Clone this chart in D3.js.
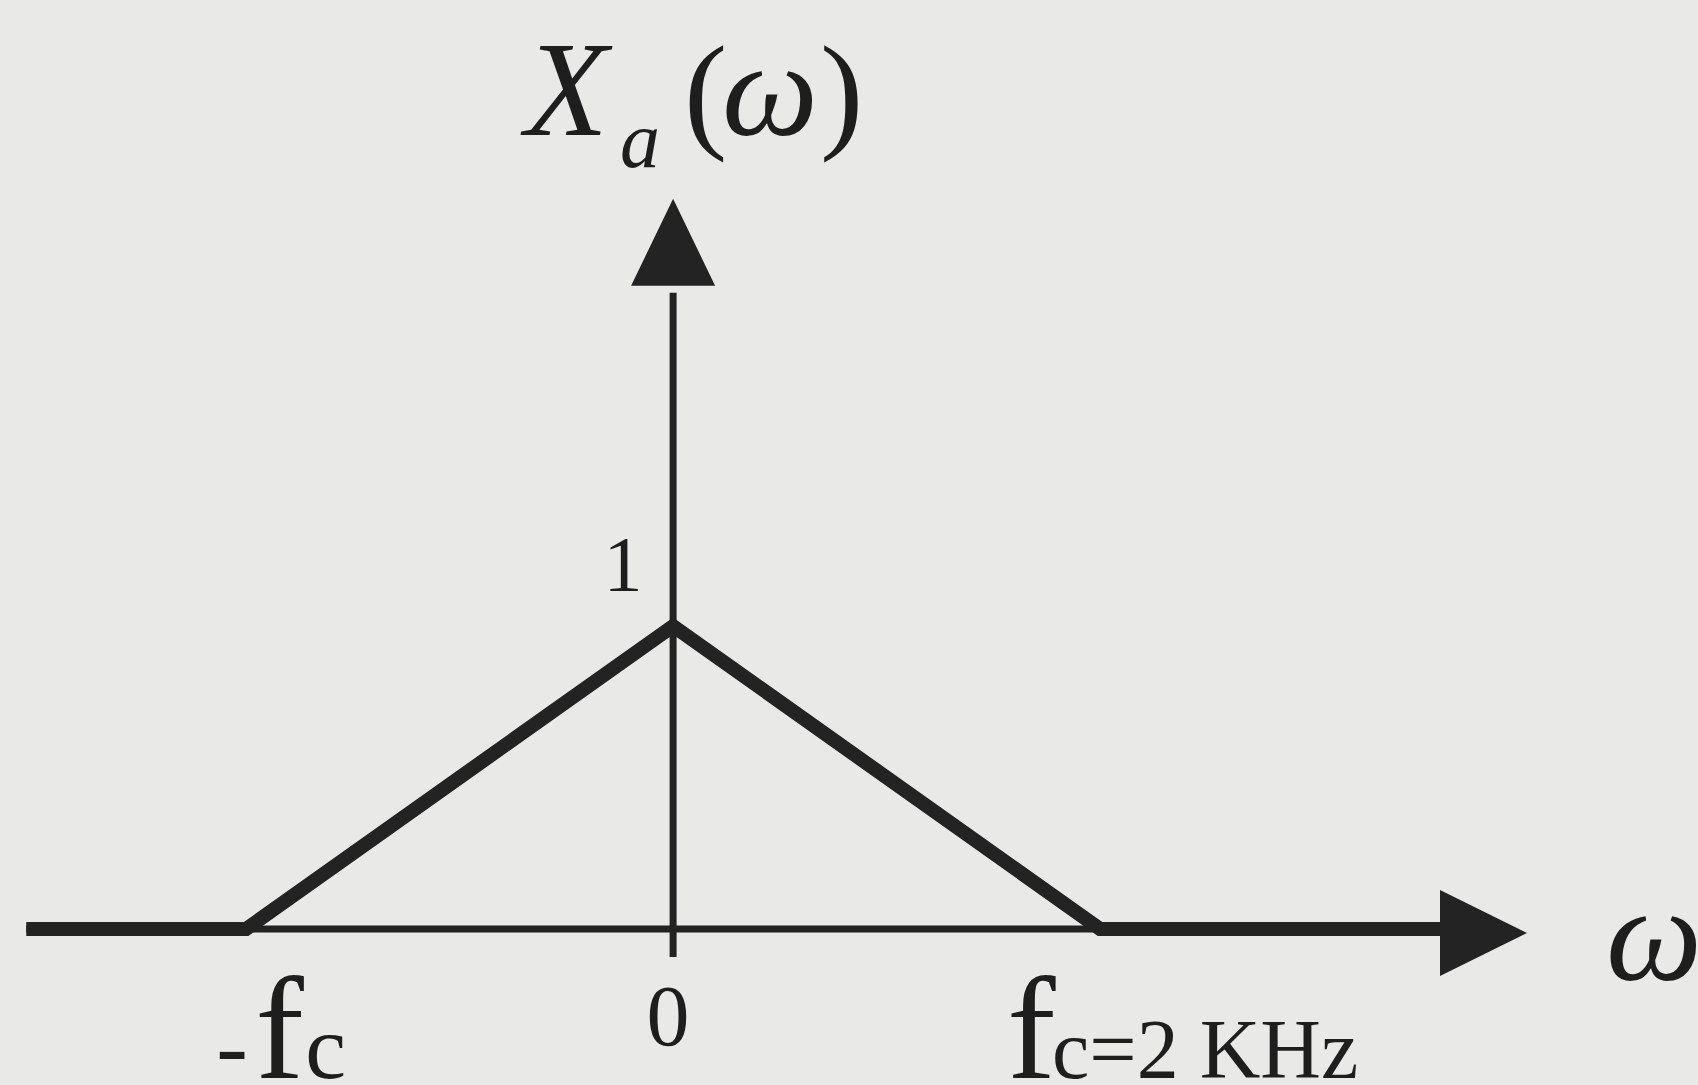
<!DOCTYPE html>
<html>
<meta charset="utf-8">
<head>
  <title>Triangular spectrum</title>
</head>

<style>
body {
  margin: 0;
  background: #e9e9e7;
}

svg {
  display: block;
  background: #e9e9e7;
}

.axis-line {
  fill: none;
  stroke: #232323;
  stroke-width: 7px;
}

.arrow {
  fill: #232323;
}

.spectrum {
  fill: none;
  stroke: #232323;
  stroke-width: 14px;
  stroke-linejoin: miter;
}

text {
  font-family: "Liberation Serif", "Times New Roman", serif;
  fill: #1e1e1e;
}
</style>

<body>
  <script src="https://cdnjs.cloudflare.com/ajax/libs/d3/7.8.5/d3.min.js"></script>
  <script>

  var width = 1698,
      height = 1085;

  // spectrum in kHz, magnitude normalised to 1
  var freq = [-3.03, -2, 0, 2, 3.6];
  var mag  = [0, 0, 1, 0, 0];

  var tickFreq = [-2, 0, 2];
  var tickMain = ["f", "", "f"];
  var tickSub  = ["c", "", "c=2 KHz"];
  var tickZero = "0";
  var magTicks = [1];
  var magLabels = ["1"];

  var x = d3.scaleLinear()
    .domain([-3.05, 4.0])
    .range([22, 1527]);

  var y = d3.scaleLinear()
    .domain([0, 1])
    .range([929, 626]);

  var svg = d3.select("body").append("svg")
      .attr("width", width)
      .attr("height", height);

  // horizontal axis with arrow head
  svg.append("line")
    .attr("class", "axis-line")
    .attr("x1", x(-3.03)).attr("x2", x(3.7))
    .attr("y1", y(0)).attr("y2", y(0));

  var ah = 43, al = 87;
  var ay = y(0) + 4;
  svg.append("path")
    .attr("class", "arrow")
    .attr("d", "M" + x(4.0) + "," + ay +
               "L" + (x(4.0) - al) + "," + (ay - ah) +
               "L" + (x(4.0) - al) + "," + (ay + ah) + "Z");

  // vertical axis with arrow head
  var yTop = 2.41;
  svg.append("line")
    .attr("class", "axis-line")
    .attr("x1", x(0)).attr("x2", x(0))
    .attr("y1", y(-0.092)).attr("y2", y(2.1));

  svg.append("path")
    .attr("class", "arrow")
    .attr("d", "M" + x(0) + "," + y(yTop) +
               "L" + (x(0) - 42) + "," + (y(yTop) + al) +
               "L" + (x(0) + 42) + "," + (y(yTop) + al) + "Z");

  // the spectrum itself
  var line = d3.line()
    .x(function(d) { return x(d[0]); })
    .y(function(d) { return y(d[1]); });

  svg.append("path")
    .attr("class", "spectrum")
    .attr("d", line(d3.zip(freq, mag)));

  // tick labels under the frequency axis
  var lbl = svg.append("g");

  var minus = lbl.append("text").attr("y", 1078);
  minus.append("tspan").attr("x", x(tickFreq[0]) - 30).style("font-size", "95px").text("-");
  minus.append("tspan").attr("x", x(tickFreq[0]) + 9).style("font-size", "146px").text(tickMain[0]);
  minus.append("tspan").attr("x", x(tickFreq[0]) + 59).style("font-size", "92px").text(tickSub[0]);

  lbl.append("text")
    .attr("x", x(tickFreq[1]) - 5)
    .attr("y", 1045)
    .attr("text-anchor", "middle")
    .style("font-size", "86px")
    .text(tickZero);

  var plus = lbl.append("text").attr("y", 1078);
  plus.append("tspan").attr("x", x(tickFreq[2]) - 93).style("font-size", "146px").text(tickMain[2]);
  plus.append("tspan").attr("x", x(tickFreq[2]) - 48).style("font-size", "84px").text(tickSub[2]);

  // magnitude tick label
  lbl.selectAll(".mag")
    .data(magTicks)
    .enter().append("text")
      .attr("class", "mag")
      .attr("x", x(0) - 50)
      .attr("y", function(d) { return y(d) - 36; })
      .attr("text-anchor", "middle")
      .style("font-size", "78px")
      .text(function(d, i) { return magLabels[i]; });

  // axis titles
  var title = svg.append("text").attr("y", 135);
  title.append("tspan").attr("x", 525).style("font-size", "136px").style("font-style", "italic").text("X");
  title.append("tspan").attr("x", 620).attr("y", 167).style("font-size", "80px").style("font-style", "italic").text("a");
  title.append("tspan").attr("x", 684).attr("y", 135).style("font-size", "130px").text("(");
  title.append("tspan").attr("x", 722).style("font-size", "136px").style("font-style", "italic").text("ω");
  title.append("tspan").attr("x", 820).style("font-size", "130px").text(")");

  svg.append("text")
    .attr("x", 1606)
    .attr("y", 980)
    .style("font-size", "136px")
    .style("font-style", "italic")
    .text("ω");

  </script>
</body>
</html>
